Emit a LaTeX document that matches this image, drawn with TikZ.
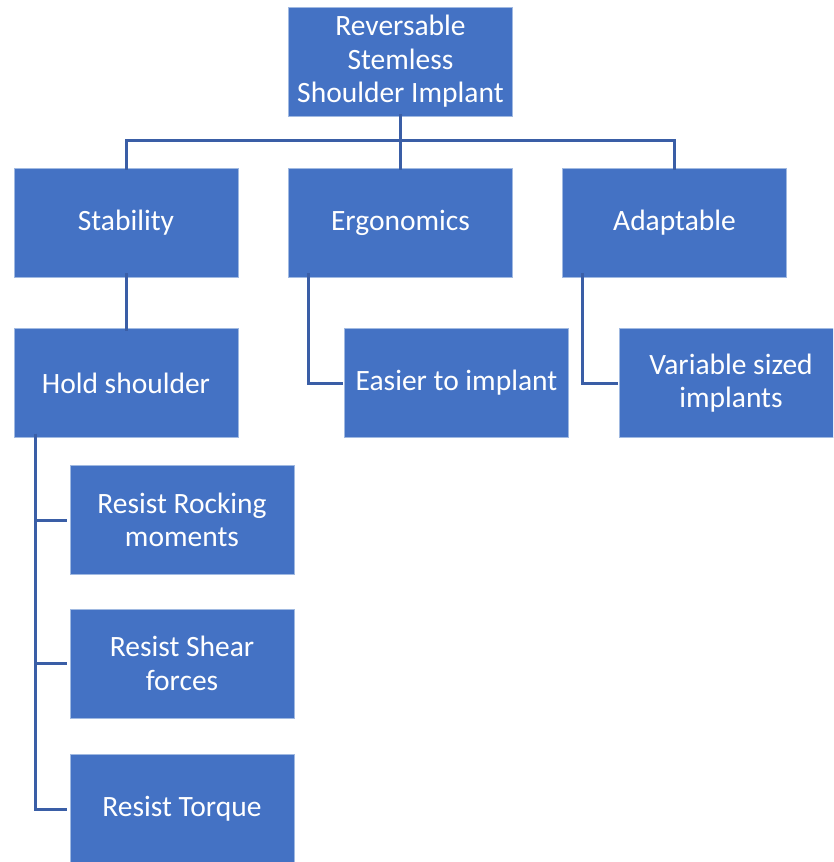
\documentclass[tikz,border=0pt]{standalone}
\usepackage{fontspec}
\setmainfont{Carlito}
\definecolor{boxfill}{RGB}{68,114,196}
\definecolor{boxedge}{RGB}{160,185,225}
\definecolor{linkcol}{RGB}{58,94,166}
\begin{document}
\begin{tikzpicture}[x=1pt,y=-1pt,
  orgbox/.style={rectangle, fill=boxfill, draw=boxedge, line width=0.8pt,
    minimum width=224pt, minimum height=109pt, inner sep=2pt,
    text=white, align=center, font=\fontsize{29.5}{33.5}\selectfont},
  link/.style={draw=linkcol, line width=3pt}]
\clip (0,0) rectangle (833,862);
\useasboundingbox (0,0) rectangle (833,862);
\node[orgbox] (root) at (400.5,61.5) {Reversable\\Stemless\\Shoulder Implant};
\node[orgbox] (stab) at (126,222.5) {Stability};
\node[orgbox] (ergo) at (400.5,222.5) {Ergonomics};
\node[orgbox] (adap) at (674.5,222.5) {Adaptable};
\node[orgbox] (hold) at (126,383) {Hold shoulder};
\node[orgbox] (easy) at (456.5,383) {Easier to implant};
\node[orgbox] (vari) at (731,383) {Variable sized\\implants};
\node[orgbox] (rock) at (182,520) {Resist Rocking\\moments};
\node[orgbox] (shear) at (182,663.5) {Resist Shear\\forces};
\node[orgbox] (torq) at (182,809) {Resist Torque};
\coordinate (bus) at (400.5,140);
\draw[link] ([yshift=2pt]root.south) -- (bus);
\draw[link] (bus) -| ([yshift=-2pt]stab.north);
\draw[link] (bus) -| ([yshift=-2pt]adap.north);
\draw[link] (bus) -- ([yshift=-2pt]ergo.north);
\draw[link] ([yshift=4pt]stab.south) -- ([yshift=-3pt]hold.north);
\draw[link] ([xshift=-92pt,yshift=4pt]ergo.south) |- ([xshift=-1pt]easy.west);
\draw[link] ([xshift=-92pt,yshift=4pt]adap.south) |- ([xshift=-1pt]vari.west);
\draw[link] ([xshift=-91pt,yshift=4pt]hold.south) |- ([xshift=-3pt]rock.west);
\draw[link] ([xshift=-91pt,yshift=4pt]hold.south) |- ([xshift=-3pt]shear.west);
\draw[link] ([xshift=-91pt,yshift=4pt]hold.south) |- ([xshift=-3pt]torq.west);
\end{tikzpicture}
\end{document}
